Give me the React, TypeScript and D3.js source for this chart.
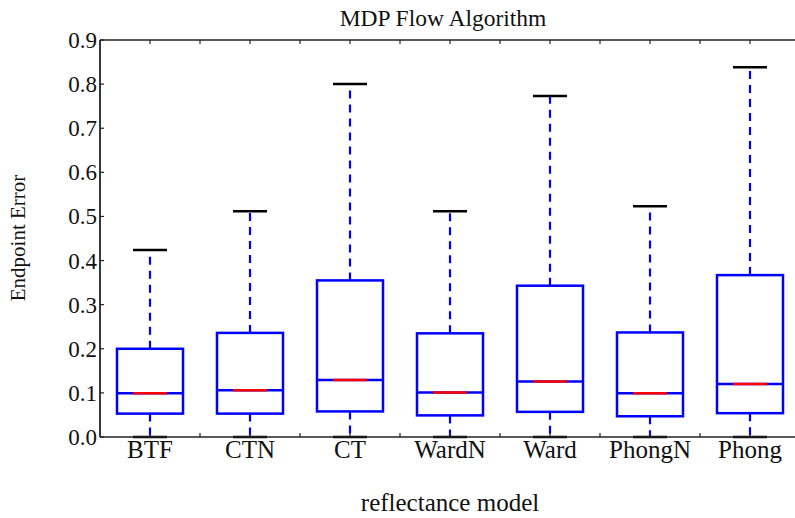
import * as d3 from "d3"
import React, { useEffect, useRef } from "react"

const categories = ["BTF", "CTN", "CT", "WardN", "Ward", "PhongN", "Phong"]
const lowerWhisker = [0, 0, 0, 0, 0, 0, 0]
const q1 = [0.053, 0.053, 0.058, 0.049, 0.057, 0.047, 0.054]
const median = [0.099, 0.106, 0.129, 0.101, 0.126, 0.099, 0.120]
const q3 = [0.2, 0.236, 0.355, 0.235, 0.343, 0.237, 0.367]
const upperWhisker = [0.424, 0.512, 0.8, 0.512, 0.773, 0.523, 0.838]
const yTicks = [0, 0.1, 0.2, 0.3, 0.4, 0.5, 0.6, 0.7, 0.8, 0.9]

const W = 795
const H = 518
const font = "'Liberation Serif', 'Times New Roman', serif"

const App = () => {
    const ref = useRef<SVGSVGElement>(null)

    useEffect(() => {
        const svg = d3.select(ref.current)
        svg.selectAll("*").remove()

        const left = 100, top = 40, bottom = 437
        // x in category units, 1..7, one unit = 100px
        const x = d3.scaleLinear().domain([0.5, 7.5]).range([left, left + 700])
        const y = d3.scaleLinear().domain([0, 0.9]).range([bottom, top])

        const boxW = 66, capW = 34

        // minor/major tick positions every half unit
        const xTickVals = d3.range(1, 15).map(i => 0.5 + i * 0.5)

        const g = svg.append("g")

        // boxes
        categories.forEach((c, i) => {
            const cx = x(i + 1)
            const gb = g.append("g")
            // whiskers
            gb.append("line")
                .attr("x1", cx).attr("x2", cx)
                .attr("y1", y(q3[i])).attr("y2", y(upperWhisker[i]))
                .attr("stroke", "#0000ff").attr("stroke-width", 2.2)
                .attr("stroke-dasharray", "8,6")
            gb.append("line")
                .attr("x1", cx).attr("x2", cx)
                .attr("y1", y(q1[i])).attr("y2", y(lowerWhisker[i]))
                .attr("stroke", "#0000ff").attr("stroke-width", 2.2)
                .attr("stroke-dasharray", "8,6")
            // caps
            ;[upperWhisker[i], lowerWhisker[i]].forEach(v => {
                gb.append("line")
                    .attr("x1", cx - capW / 2).attr("x2", cx + capW / 2)
                    .attr("y1", y(v)).attr("y2", y(v))
                    .attr("stroke", "#000").attr("stroke-width", 2.5)
            })
            // box
            gb.append("rect")
                .attr("x", cx - boxW / 2).attr("width", boxW)
                .attr("y", y(q3[i])).attr("height", y(q1[i]) - y(q3[i]))
                .attr("fill", "none")
                .attr("stroke", "#0000ff").attr("stroke-width", 2.5)
            // median
            gb.append("line")
                .attr("x1", cx - boxW / 2).attr("x2", cx + boxW / 2)
                .attr("y1", y(median[i])).attr("y2", y(median[i]))
                .attr("stroke", "#0000ff").attr("stroke-width", 2.5)
            gb.append("line")
                .attr("x1", cx - capW / 2).attr("x2", cx + capW / 2)
                .attr("y1", y(median[i])).attr("y2", y(median[i]))
                .attr("stroke", "#ff0000").attr("stroke-width", 2.5)
        })

        // axes frame
        const axisColor = "#222"
        g.append("line").attr("x1", left).attr("x2", W).attr("y1", top).attr("y2", top)
            .attr("stroke", axisColor).attr("stroke-width", 1.5)
        g.append("line").attr("x1", left).attr("x2", W).attr("y1", bottom).attr("y2", bottom)
            .attr("stroke", axisColor).attr("stroke-width", 1.5)
        g.append("line").attr("x1", left).attr("x2", left).attr("y1", top).attr("y2", bottom)
            .attr("stroke", axisColor).attr("stroke-width", 1.8)

        // inward ticks
        xTickVals.forEach(v => {
            g.append("line").attr("x1", x(v)).attr("x2", x(v))
                .attr("y1", top).attr("y2", top + 4)
                .attr("stroke", axisColor).attr("stroke-width", 1.2)
            g.append("line").attr("x1", x(v)).attr("x2", x(v))
                .attr("y1", bottom).attr("y2", bottom - 4)
                .attr("stroke", axisColor).attr("stroke-width", 1.2)
        })
        yTicks.forEach(v => {
            g.append("line").attr("x1", left).attr("x2", left + 4)
                .attr("y1", y(v)).attr("y2", y(v))
                .attr("stroke", axisColor).attr("stroke-width", 1.2)
            g.append("text")
                .attr("x", left - 3).attr("y", y(v))
                .attr("dy", "0.35em")
                .attr("text-anchor", "end")
                .attr("font-family", font).attr("font-size", 23)
                .attr("fill", "#111")
                .text(v.toFixed(1))
        })

        // category labels
        categories.forEach((c, i) => {
            g.append("text")
                .attr("x", x(i + 1)).attr("y", 458)
                .attr("text-anchor", "middle")
                .attr("font-family", font).attr("font-size", 25)
                .attr("fill", "#111")
                .text(c)
        })

        // titles
        g.append("text")
            .attr("x", 443).attr("y", 26)
            .attr("text-anchor", "middle")
            .attr("font-family", font).attr("font-size", 23.5)
            .attr("fill", "#111")
            .text("MDP Flow Algorithm")
        g.append("text")
            .attr("x", 450).attr("y", 511)
            .attr("text-anchor", "middle")
            .attr("font-family", font).attr("font-size", 25)
            .attr("fill", "#111")
            .text("reflectance model")
        g.append("text")
            .attr("transform", `translate(25, 238) rotate(-90)`)
            .attr("text-anchor", "middle")
            .attr("font-family", font).attr("font-size", 21)
            .attr("fill", "#111")
            .text("Endpoint Error")
    }, [])

    return (
        <svg ref={ref} width={W} height={H}
            style={{ position: "absolute", left: 0, top: 0, background: "#fff" }} />
    )
}

export default App
